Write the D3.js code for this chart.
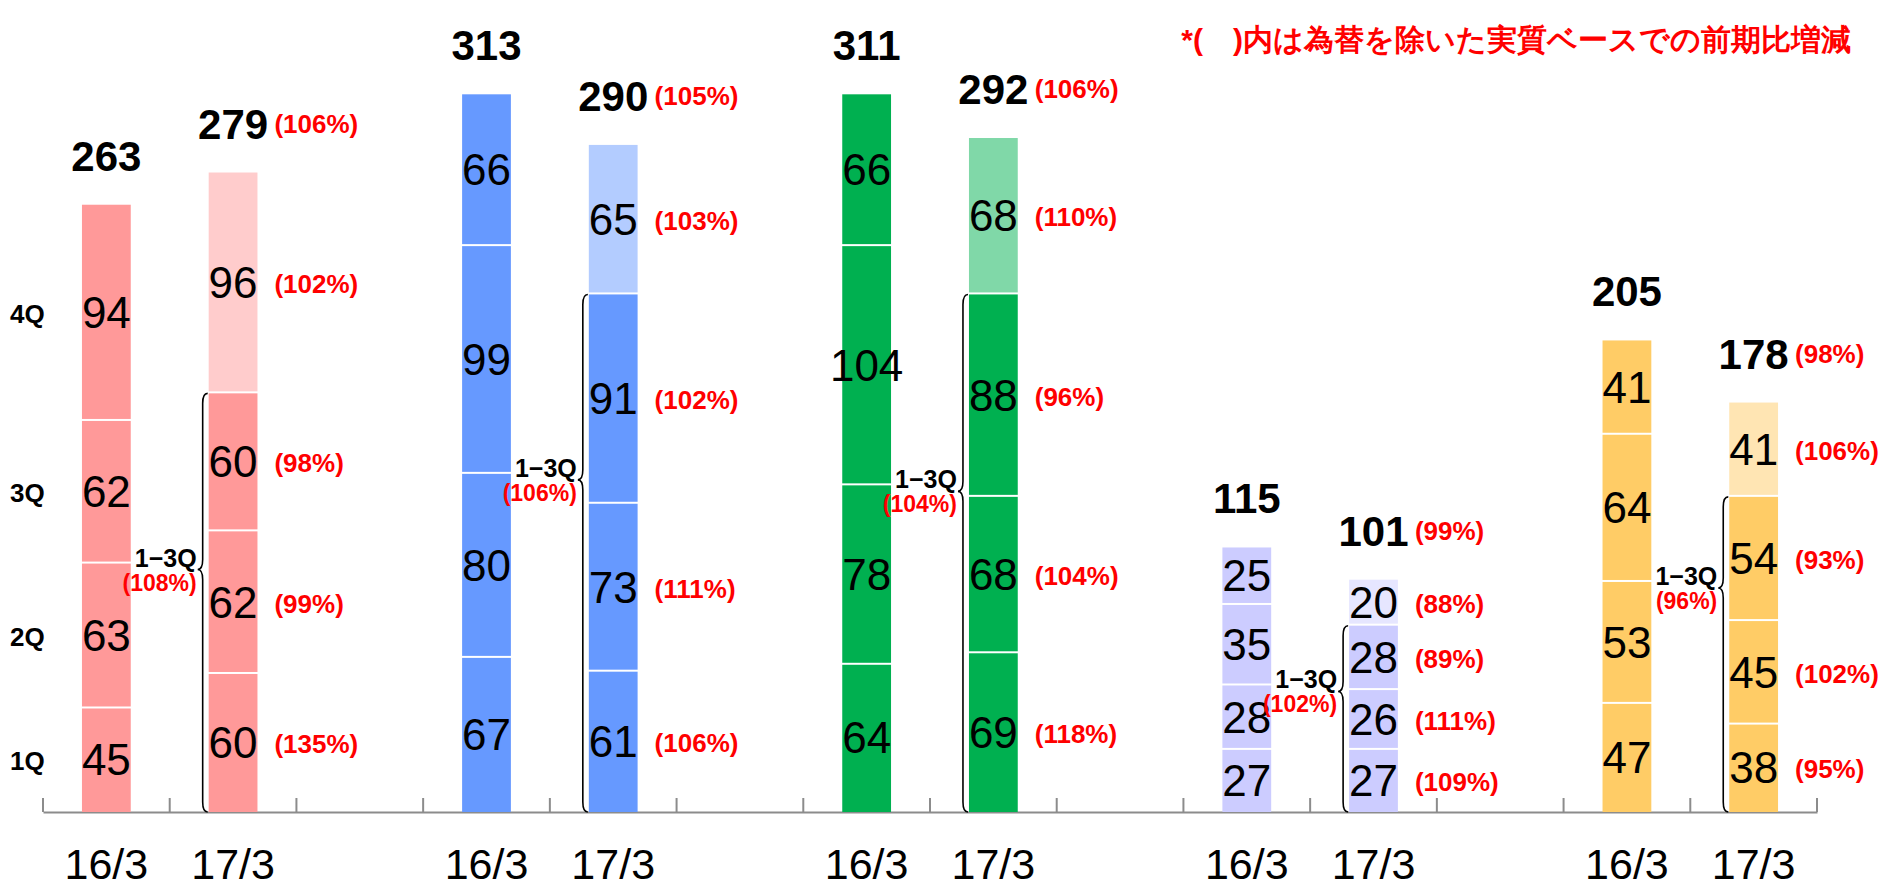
<!DOCTYPE html>
<html>
<head>
<meta charset="utf-8">
<script src="https://cdn.jsdelivr.net/npm/d3@7"></script>
<style>
  html, body { margin: 0; padding: 0; background: #fff; overflow: hidden; }
  text { font-family: "Liberation Sans", Arial, sans-serif; }
</style>
</head>
<body>
<svg id="chart"></svg>
<script>
// slot labels on the axis, 5 groups, empty slot between groups
const categories = ['16/3', '17/3']
const quarters = ['1Q', '2Q', '3Q', '4Q']

// quarterly values, 1Q..4Q
const prev = [
  [45, 63, 62, 94],
  [67, 80, 99, 66],
  [64, 78, 104, 66],
  [27, 28, 35, 25],
  [47, 53, 64, 41]
]
const curr = [
  [60, 62, 60, 96],
  [61, 73, 91, 65],
  [69, 68, 88, 68],
  [27, 26, 28, 20],
  [38, 45, 54, 41]
]
const prevTotal = [263, 313, 311, 115, 205]
const currTotal = [279, 290, 292, 101, 178]

// real growth excluding FX (%)
const currPct = [
  [135, 99, 98, 102],
  [106, 111, 102, 103],
  [118, 104, 96, 110],
  [109, 111, 89, 88],
  [95, 102, 93, 106]
]
const totalPct = [106, 105, 106, 99, 98]
const q13Pct = [108, 106, 104, 102, 96]

const colors = ['#ff9999', '#6699ff', '#00b050', '#ccccff', '#ffcc66']
const lightColors = ['#ffcccc', '#b3ccff', '#80d8a8', '#e6e6ff', '#ffe5b3']

const note = '*(\u3000)内は為替を除いた実質ベースでの前期比増減'

const width = 1879
const height = 889

const svg = d3.select('#chart')
  .attr('width', width)
  .attr('height', height)
  .attr('viewBox', `0 0 ${width} ${height}`)

// build slot keys: g0-16/3, g0-17/3, g0-gap, ...
let slots = []
prev.forEach(function(d, i) {
  categories.forEach(function(c) { slots.push(i + '|' + c) })
  if (i < prev.length - 1) slots.push(i + '|gap')
})

const x = d3.scaleBand().domain(slots).range([43, 1817]).padding(0)
const y = d3.scaleLinear().domain([0, 353]).range([812, 0])
const barW = x.bandwidth() * 0.385

// axis
const axis = svg.append('g')
  .attr('transform', `translate(0,${y(0)})`)
  .call(d3.axisBottom(x).tickSize(0).tickFormat(''))
axis.select('.domain').attr('stroke', '#8c8c8c').attr('stroke-width', 2)
axis.selectAll('.tick').remove()

const boundaries = slots.map(function(s) { return x(s) }).concat([x.range()[1]])
axis.selectAll('.sep')
  .data(boundaries)
  .enter().append('line')
  .attr('class', 'sep')
  .attr('x1', function(d) { return d })
  .attr('x2', function(d) { return d })
  .attr('y1', 0)
  .attr('y2', -14)
  .attr('stroke', '#8c8c8c')
  .attr('stroke-width', 2)

// category labels
svg.append('g').selectAll('text')
  .data(slots.filter(function(s) { return s.indexOf('gap') < 0 }))
  .enter().append('text')
  .attr('x', function(d) { return x(d) + x.bandwidth() / 2 })
  .attr('y', 879)
  .attr('text-anchor', 'middle')
  .attr('font-size', 43)
  .attr('fill', '#000')
  .text(function(d) { return d.split('|')[1] })

function stack(vals) {
  let acc = 0
  return vals.map(function(v, q) {
    const s = { q: q, v: v, y0: acc, y1: acc + v }
    acc += v
    return s
  })
}

const bars = svg.append('g')
const labels = svg.append('g')

prev.forEach(function(vals, g) {
  const cx0 = x(g + '|' + categories[0]) + x.bandwidth() / 2
  const cx1 = x(g + '|' + categories[1]) + x.bandwidth() / 2
  const s0 = stack(vals)
  const s1 = stack(curr[g])

  // previous year bar
  bars.selectAll('.p' + g)
    .data(s0)
    .enter().append('rect')
    .attr('x', cx0 - barW / 2)
    .attr('y', function(d) { return y(d.y1) })
    .attr('width', barW)
    .attr('height', function(d) { return y(d.y0) - y(d.y1) - (d.q > 0 ? 2 : 0) })
    .attr('fill', colors[g])

  // current year bar, 4Q lighter
  bars.selectAll('.c' + g)
    .data(s1)
    .enter().append('rect')
    .attr('x', cx1 - barW / 2)
    .attr('y', function(d) { return y(d.y1) })
    .attr('width', barW)
    .attr('height', function(d) { return y(d.y0) - y(d.y1) - (d.q > 0 ? 2 : 0) })
    .attr('fill', function(d) { return d.q === 3 ? lightColors[g] : colors[g] })

  // segment values
  labels.selectAll('.pv' + g)
    .data(s0)
    .enter().append('text')
    .attr('x', cx0)
    .attr('y', function(d) { return y((d.y0 + d.y1) / 2) + 15 })
    .attr('text-anchor', 'middle')
    .attr('font-size', 44)
    .text(function(d) { return d.v })

  labels.selectAll('.cv' + g)
    .data(s1)
    .enter().append('text')
    .attr('x', cx1)
    .attr('y', function(d) { return y((d.y0 + d.y1) / 2) + 15 })
    .attr('text-anchor', 'middle')
    .attr('font-size', 44)
    .text(function(d) { return d.v })

  // quarter growth
  labels.selectAll('.cp' + g)
    .data(s1)
    .enter().append('text')
    .attr('x', cx1 + barW / 2 + 17)
    .attr('y', function(d) { return y((d.y0 + d.y1) / 2) + 10 })
    .attr('font-size', 26)
    .attr('font-weight', 'bold')
    .attr('fill', '#ff0000')
    .text(function(d) { return '(' + currPct[g][d.q] + '%)' })

  // totals
  const top0 = y(s0[3].y1)
  const top1 = y(s1[3].y1)
  labels.append('text')
    .attr('x', cx0)
    .attr('y', top0 - 34)
    .attr('text-anchor', 'middle')
    .attr('font-size', 42)
    .attr('font-weight', 'bold')
    .text(prevTotal[g])
  labels.append('text')
    .attr('x', cx1)
    .attr('y', top1 - 34)
    .attr('text-anchor', 'middle')
    .attr('font-size', 42)
    .attr('font-weight', 'bold')
    .text(currTotal[g])
  labels.append('text')
    .attr('x', cx1 + barW / 2 + 17)
    .attr('y', top1 - 40)
    .attr('font-size', 26)
    .attr('font-weight', 'bold')
    .attr('fill', '#ff0000')
    .text('(' + totalPct[g] + '%)')

  // 1-3Q brace on the left of current bar
  const left = cx1 - barW / 2
  const spine = left - 6
  const tipX = left - 11
  const yt = y(s1[2].y1)
  const yb = y(0)
  const ym = y(s0[1].y1) + 6
  const r = 10
  const path = d3.path()
  path.moveTo(left - 1, yt)
  path.quadraticCurveTo(spine, yt, spine, yt + r)
  path.lineTo(spine, ym - r)
  path.quadraticCurveTo(spine, ym, tipX, ym)
  path.quadraticCurveTo(spine, ym, spine, ym + r)
  path.lineTo(spine, yb - r)
  path.quadraticCurveTo(spine, yb, left - 1, yb)
  svg.append('path')
    .attr('d', path.toString())
    .attr('fill', 'none')
    .attr('stroke', '#000')
    .attr('stroke-width', 1.6)

  labels.append('text')
    .attr('x', tipX - 1)
    .attr('y', ym - 3)
    .attr('text-anchor', 'end')
    .attr('font-size', 25)
    .attr('font-weight', 'bold')
    .text('1\u22123Q')
  labels.append('text')
    .attr('x', tipX - 1)
    .attr('y', ym + 21)
    .attr('text-anchor', 'end')
    .attr('font-size', 23)
    .attr('font-weight', 'bold')
    .attr('fill', '#ff0000')
    .text('(' + q13Pct[g] + '%)')
})

// quarter names at the left, aligned to the first bar
const first = stack(prev[0])
svg.append('g').selectAll('text')
  .data(first)
  .enter().append('text')
  .attr('x', 10)
  .attr('y', function(d) { return y((d.y0 + d.y1) / 2) + 10 })
  .attr('font-size', 26)
  .attr('font-weight', 'bold')
  .text(function(d) { return quarters[d.q] })

// note
svg.append('text')
  .attr('x', 1851)
  .attr('y', 50)
  .attr('text-anchor', 'end')
  .attr('font-family', '"Noto Sans CJK JP", sans-serif')
  .attr('font-size', 30)
  .attr('font-weight', 'bold')
  .attr('fill', '#ff0000')
  .text(note)
</script>
</body>
</html>
